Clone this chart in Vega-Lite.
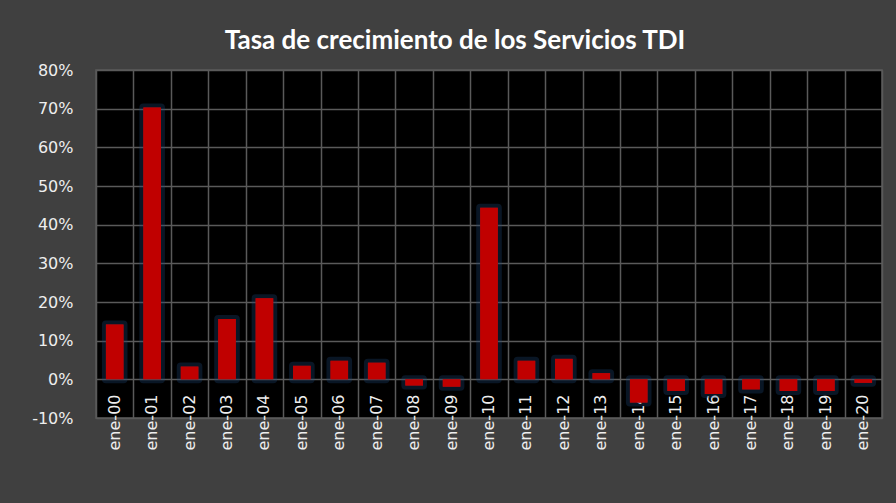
{
  "$schema": "https://vega.github.io/schema/vega-lite/v6.json",
  "width": 786,
  "height": 348,
  "autosize": {"type": "none"},
  "padding": {"left": 96, "top": 70, "right": 14, "bottom": 85},
  "background": "#404040",
  "title": {
    "text": "Tasa de crecimiento de los Servicios TDI",
    "font": "Lato",
    "fontWeight": "bold",
    "fontSize": 26,
    "color": "#ffffff",
    "anchor": "middle",
    "dx": -34,
    "dy": 14,
    "offset": 1,
    "baseline": "alphabetic"
  },
  "config": {
    "view": {"fill": "#000000", "stroke": "#5a5a5a", "strokeWidth": 1.5},
    "axis": {"labelOverlap": false},
    "axisY": {"labelOverlap": false}
  },
  "data": {
    "values": [
      {"mes": "ene-00", "tasa": 0.142},
      {"mes": "ene-01", "tasa": 0.703},
      {"mes": "ene-02", "tasa": 0.033},
      {"mes": "ene-03", "tasa": 0.156},
      {"mes": "ene-04", "tasa": 0.210},
      {"mes": "ene-05", "tasa": 0.035},
      {"mes": "ene-06", "tasa": 0.048},
      {"mes": "ene-07", "tasa": 0.043},
      {"mes": "ene-08", "tasa": -0.016},
      {"mes": "ene-09", "tasa": -0.019},
      {"mes": "ene-10", "tasa": 0.444},
      {"mes": "ene-11", "tasa": 0.048},
      {"mes": "ene-12", "tasa": 0.053},
      {"mes": "ene-13", "tasa": 0.016},
      {"mes": "ene-14", "tasa": -0.060},
      {"mes": "ene-15", "tasa": -0.030},
      {"mes": "ene-16", "tasa": -0.038},
      {"mes": "ene-17", "tasa": -0.026},
      {"mes": "ene-18", "tasa": -0.030},
      {"mes": "ene-19", "tasa": -0.030},
      {"mes": "ene-20", "tasa": -0.009}
    ]
  },
  "layer": [
    {
      "mark": {"type": "bar", "width": {"band": 0.47}, "fill": "#C00000", "stroke": "#1f4a7a", "strokeWidth": 8, "strokeOpacity": 0.3, "strokeJoin": "round"},
      "encoding": {
        "x": {
          "field": "mes", "type": "ordinal", "sort": null,
          "scale": {"paddingInner": 0, "paddingOuter": 0},
          "axis": {"orient": "bottom", "title": null, "labels": false, "ticks": false, "domain": false, "grid": true, "tickBand": "extent", "gridColor": "#5a5a5a", "gridWidth": 1.5}
        },
        "y": {
          "field": "tasa", "type": "quantitative",
          "scale": {"domain": [-0.1, 0.8], "nice": false, "zero": false},
          "axis": {
            "title": null,
            "tickCount": 10,
            "values": [-0.1, 0, 0.1, 0.2, 0.3, 0.4, 0.5, 0.6, 0.7, 0.8],
            "labelExpr": "round(datum.value*100) + '%'",
            "labelOverlap": false,
            "domain": false, "ticks": false,
            "grid": true, "gridColor": "#5a5a5a", "gridWidth": 1.5,
            "labelFont": "DejaVu Sans", "labelFontSize": 16, "labelColor": "#eeeeee",
            "labelPadding": 23
          }
        }
      }
    },
    {
      "mark": {"type": "bar", "width": {"band": 0.47}, "fill": "#C00000"},
      "encoding": {
        "x": {
          "field": "mes", "type": "ordinal", "sort": null,
          "axis": {"orient": "bottom", "title": null, "labels": true, "labelOverlap": false, "ticks": false, "domain": false, "grid": false, "offset": -39, "labelAngle": -90, "labelPadding": 15, "labelFont": "DejaVu Sans", "labelFontSize": 16, "labelColor": "#eeeeee"}
        },
        "y": {
          "field": "tasa", "type": "quantitative",
          "axis": {
            "title": null,
            "tickCount": 10,
            "values": [-0.1, 0, 0.1, 0.2, 0.3, 0.4, 0.5, 0.6, 0.7, 0.8],
            "labelExpr": "round(datum.value*100) + '%'",
            "labelOverlap": false,
            "domain": false, "ticks": false,
            "grid": true, "gridColor": "#5a5a5a", "gridWidth": 1.5,
            "labelFont": "DejaVu Sans", "labelFontSize": 16, "labelColor": "#eeeeee",
            "labelPadding": 23
          }
        }
      }
    }
  ],
  "resolve": {"axis": {"x": "independent"}}
}
